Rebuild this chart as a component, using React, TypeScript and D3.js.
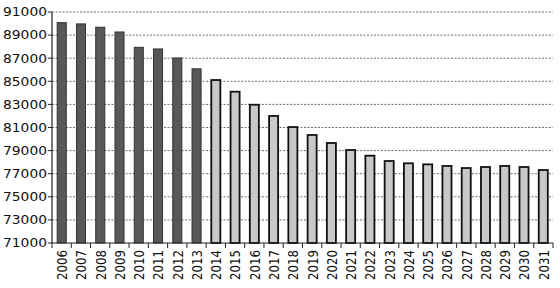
import React from "react";
import * as d3 from "d3";

const years = ["2006","2007","2008","2009","2010","2011","2012","2013","2014","2015","2016","2017","2018","2019","2020","2021","2022","2023","2024","2025","2026","2027","2028","2029","2030","2031"];
const values = [90080, 89970, 89680, 89270, 87940, 87800, 87020, 86080, 85110, 84100, 82970, 82000, 81040, 80350, 79660, 79050, 78560, 78100, 77900, 77810, 77670, 77490, 77580, 77670, 77580, 77320];
const actualCount = 8;
const yTicks = [71000, 73000, 75000, 77000, 79000, 81000, 83000, 85000, 87000, 89000, 91000];

export default function App() {
  const W = 560, H = 288;
  const left = 52, right = 553, top = 12, bottom = 243;
  const x = d3.scaleBand<string>().domain(years).range([left, right]).paddingInner(0.53).paddingOuter(0.27);
  const xb = d3.scaleBand<string>().domain(years).range([left, right]);
  const y = d3.scaleLinear().domain([71000, 91000]).range([bottom, top]);
  const font = "'DejaVu Sans', Verdana, sans-serif";
  return (
    <svg width={W} height={H} style={{ position: "absolute", left: 0, top: 0, background: "#fff" }}>
      {yTicks.map((t) => (
        <g key={t}>
          {t !== 71000 && (
            <line x1={left} x2={right} y1={y(t)} y2={y(t)} stroke="#6a6e78" strokeWidth={1} strokeDasharray="2,1.5" />
          )}
          <line x1={left - 4} x2={left} y1={y(t)} y2={y(t)} stroke="#222" />
          <text x={47} y={y(t)} dy="0.36em" textAnchor="end" fontFamily={font} fontSize={12} fill="#111" textLength={44} lengthAdjust="spacingAndGlyphs">
            {t}
          </text>
        </g>
      ))}
      {years.map((yr, i) => {
        const v = values[i];
        const dark = i < actualCount;
        return (
          <rect key={yr} x={x(yr)!} y={y(v)} width={x.bandwidth()} height={bottom - y(v)}
            fill={dark ? "#585858" : "#c8c8c8"} stroke={dark ? "#333" : "#111"} strokeWidth={dark ? 1 : 1.8} />
        );
      })}
      <line x1={left} x2={left} y1={top} y2={bottom} stroke="#222" strokeWidth={1.2} />
      <line x1={left} x2={right} y1={bottom} y2={bottom} stroke="#222" strokeWidth={1.2} />
      {years.map((yr) => (
        <line key={"t" + yr} x1={xb(yr)!} x2={xb(yr)!} y1={bottom} y2={bottom + 5} stroke="#222" />
      ))}
      <line x1={right} x2={right} y1={bottom} y2={bottom + 5} stroke="#222" />
      {years.map((yr) => {
        const cx = xb(yr)! + xb.bandwidth() / 2;
        return (
          <text key={"l" + yr} transform={`translate(${cx},${250}) scale(1.3,1) rotate(-90)`} textAnchor="end" dy="0.36em"
            fontFamily={font} fontSize={11.5} fill="#111" textLength={30} lengthAdjust="spacingAndGlyphs">
            {yr}
          </text>
        );
      })}
    </svg>
  );
}
